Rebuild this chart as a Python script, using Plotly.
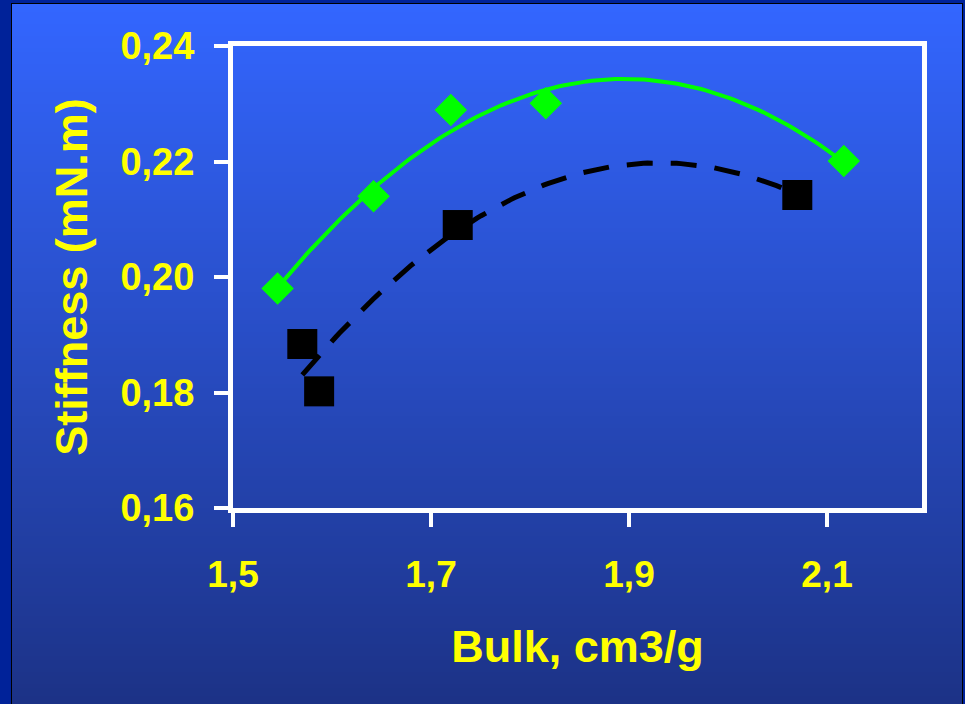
import numpy as np
import plotly.graph_objects as go

# ---- data ----
green_x = [1.545, 1.642, 1.720, 1.816, 2.117]
green_y = [0.198, 0.214, 0.2289, 0.2301, 0.2201]
black_x = [1.570, 1.587, 1.727, 2.070]
black_y = [0.1884, 0.1802, 0.2090, 0.2142]

x_tickvals = [1.5, 1.7, 1.9, 2.1]
x_ticktext = ["1,5", "1,7", "1,9", "2,1"]
y_tickvals = [0.16, 0.18, 0.20, 0.22, 0.24]
y_ticktext = ["0,16", "0,18", "0,20", "0,22", "0,24"]

x_title = "Bulk, cm3/g"
y_title = "Stiffness (mN.m)"

W, H = 965, 704
L, R, T, B = 233, 922, 46, 508  # plot area in pixels


def trend(xs, ys, deg=2, n=120):
    c = np.polyfit(xs, ys, deg)
    xx = np.linspace(min(xs), max(xs), n)
    return xx, np.polyval(c, xx)


gx, gy = trend(green_x, green_y)
bx, by = trend(black_x, black_y)

YEL = "#ffff00"
FONT = "Liberation Sans, Arial, sans-serif"

fig = go.Figure()
fig.add_trace(go.Scatter(x=gx, y=gy, mode="lines",
                         line=dict(color="#00ff00", width=4), hoverinfo="skip"))
fig.add_trace(go.Scatter(x=bx, y=by, mode="lines",
                         line=dict(color="#000000", width=5, dash="26px,18px"),
                         hoverinfo="skip"))
fig.add_trace(go.Scatter(x=green_x, y=green_y, mode="markers",
                         marker=dict(symbol="diamond", size=25, color="#00ff00",
                                     line=dict(width=0))))
fig.add_trace(go.Scatter(x=black_x, y=black_y, mode="markers",
                         marker=dict(symbol="square", size=30, color="#000000",
                                     line=dict(width=0))))


def px2p(px, py):
    return (px - L) / (R - L), (B - py) / (B - T)


shapes = []
# black frame line around gradient area
x0, y0 = px2p(11, 3)
x1, y1 = px2p(963, H + 5)
shapes.append(dict(type="rect", xref="paper", yref="paper", x0=x0, y0=y1, x1=x1, y1=y0,
                   fillcolor="#000000", line=dict(width=0), layer="below"))
# gradient bands
top = np.array([51, 102, 255])
bot = np.array([28, 50, 134])
step = 4
gy0 = 4
for py in range(gy0, H, step):
    t = (py + step / 2 - gy0) / (H - gy0)
    c = top + (bot - top) * t
    col = "rgb(%d,%d,%d)" % tuple(int(round(v)) for v in c)
    ax0, ay0 = px2p(12, py)
    ax1, ay1 = px2p(962, py + step + 0.5)
    shapes.append(dict(type="rect", xref="paper", yref="paper", x0=ax0, y0=ay1,
                       x1=ax1, y1=ay0, fillcolor=col, line=dict(width=0),
                       layer="below"))

fig.update_layout(
    width=W, height=H,
    margin=dict(l=L, r=W - R, t=T, b=H - B, pad=0),
    paper_bgcolor="#002299",
    plot_bgcolor="rgba(0,0,0,0)",
    showlegend=False,
    shapes=shapes,
    font=dict(family=FONT, color=YEL),
)
fig.update_xaxes(
    range=[1.5, 1.5 + (R - L) / 990.0], tickvals=x_tickvals, ticktext=x_ticktext,
    showgrid=False, zeroline=False,
    showline=True, linecolor="white", linewidth=5, mirror=True,
    ticks="outside", tickcolor="white", tickwidth=4, ticklen=14,
    tickfont=dict(family=FONT, size=37, color=YEL, weight="bold"),
    ticklabelstandoff=16,
    title=dict(text=x_title, font=dict(family=FONT, size=45, color=YEL, weight="bold"),
               standoff=38),
)
fig.update_yaxes(
    range=[0.16, 0.24], tickvals=y_tickvals, ticktext=y_ticktext,
    showgrid=False, zeroline=False,
    showline=True, linecolor="white", linewidth=5, mirror=True,
    ticks="outside", tickcolor="white", tickwidth=4, ticklen=14,
    tickfont=dict(family=FONT, size=38, color=YEL, weight="bold"),
    ticklabelstandoff=12,
    title=dict(text=y_title, font=dict(family=FONT, size=45, color=YEL, weight="bold"),
               standoff=20),
)

fig.write_html("out.html",
               config={"displayModeBar": False},
               post_script="document.body.style.margin='0';document.body.style.overflow='hidden';")
